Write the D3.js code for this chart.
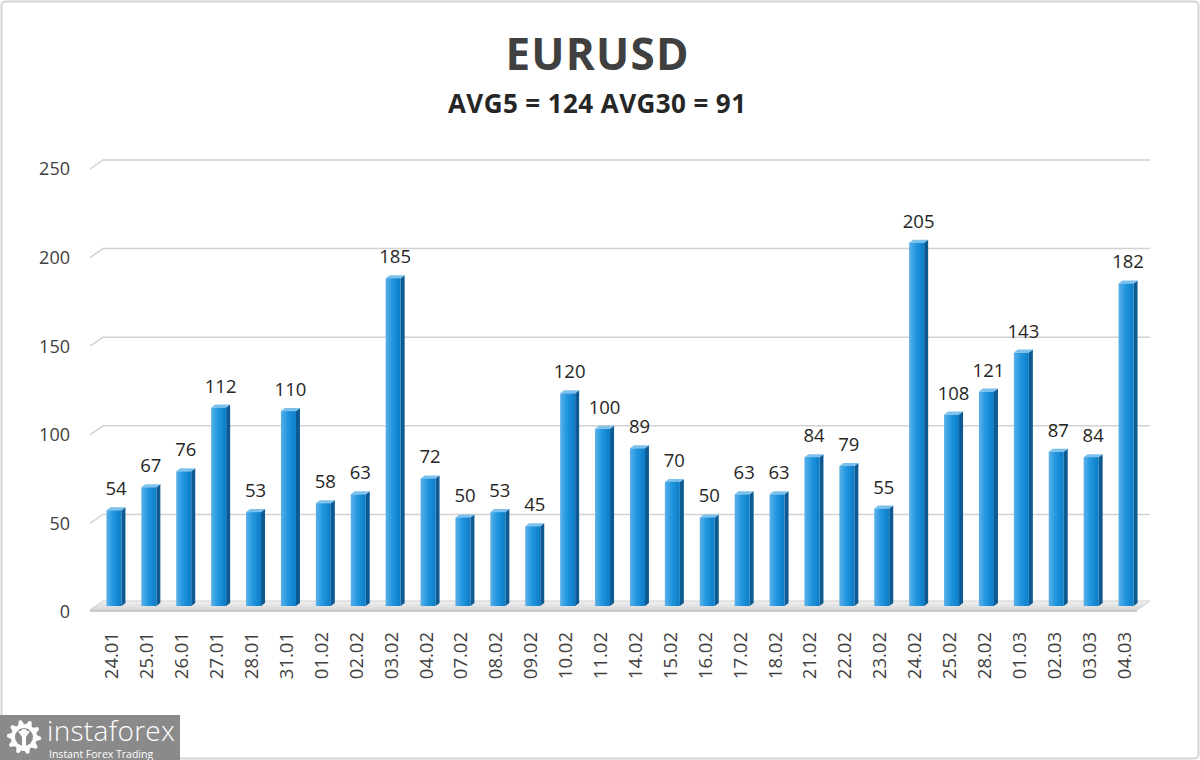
<!DOCTYPE html>
<html>
<head>
<meta charset="utf-8">
<script src="https://cdn.jsdelivr.net/npm/d3@7"></script>
<style>
  body { margin: 0; background: #fff; }
  svg text { font-family: "Open Sans", "DejaVu Sans", sans-serif; }
</style>
</head>
<body>
<div class="chart"></div>
<script>
var svgWidth = 1200;
var svgHeight = 760;

// chart values
var dates = ["24.01", "25.01", "26.01", "27.01", "28.01", "31.01", "01.02", "02.02", "03.02", "04.02",
  "07.02", "08.02", "09.02", "10.02", "11.02", "14.02", "15.02", "16.02", "17.02", "18.02",
  "21.02", "22.02", "23.02", "24.02", "25.02", "28.02", "01.03", "02.03", "03.03", "04.03"];
var values = [54, 67, 76, 112, 53, 110, 58, 63, 185, 72,
  50, 53, 45, 120, 100, 89, 70, 50, 63, 63,
  84, 79, 55, 205, 108, 121, 143, 87, 84, 182];
var yTicks = [0, 50, 100, 150, 200, 250];
var title = "EURUSD";
var subtitle = "AVG5 = 124 AVG30 = 91";

var depthX = 4, depthY = 3;      // bar 3d depth
var wallX = 13, wallY = 9;       // floor / wall perspective

var svg = d3.select(".chart")
  .append("svg")
  .attr("width", svgWidth)
  .attr("height", svgHeight);

var defs = svg.append("defs");
var grad = defs.append("linearGradient")
  .attr("id", "barFront")
  .attr("x1", "0%").attr("x2", "100%").attr("y1", "0%").attr("y2", "0%");
grad.append("stop").attr("offset", "0%").attr("stop-color", "#5cb0e8");
grad.append("stop").attr("offset", "45%").attr("stop-color", "#2197e0");
grad.append("stop").attr("offset", "100%").attr("stop-color", "#0c7cc6");

var floorGrad = defs.append("linearGradient")
  .attr("id", "floorGrad")
  .attr("x1", "0%").attr("x2", "0%").attr("y1", "0%").attr("y2", "100%");
floorGrad.append("stop").attr("offset", "0%").attr("stop-color", "#f2f2f2");
floorGrad.append("stop").attr("offset", "100%").attr("stop-color", "#d6d6d6");

// outer frame
svg.append("rect")
  .attr("x", 1.5).attr("y", 1.5)
  .attr("width", svgWidth - 3).attr("height", svgHeight - 3)
  .attr("rx", 4)
  .attr("fill", "#fff")
  .attr("stroke", "#d4d4d4")
  .attr("stroke-width", 2);

// titles
svg.append("text")
  .attr("x", 597).attr("y", 70)
  .attr("text-anchor", "middle")
  .attr("font-size", 44)
  .attr("font-weight", "bold")
  .attr("fill", "#404040")
  .attr("textLength", 183)
  .text(title);

svg.append("text")
  .attr("x", 597).attr("y", 113)
  .attr("text-anchor", "middle")
  .attr("font-size", 26)
  .attr("font-weight", "bold")
  .attr("fill", "#262626")
  .attr("textLength", 298)
  .text(subtitle);

// scales
var xBand = d3.scaleBand()
  .domain(dates)
  .range([96.5, 1143.5])
  .paddingInner(0.57)
  .paddingOuter(0.285);

var yScale = d3.scaleLinear()
  .domain([0, 250])
  .range([606, 163]);

var grid = svg.append("g");

// floor
var fy = yScale(0);
grid.append("path")
  .attr("d", `M90,${fy + 4} L${90 + wallX},${fy - 5} L1150,${fy - 5} L${1150 - wallX},${fy + 4} Z`)
  .attr("fill", "url(#floorGrad)")
  .attr("stroke", "#cfcfcf")
  .attr("stroke-width", 1);
grid.append("line")
  .attr("x1", 90).attr("x2", 1150 - wallX)
  .attr("y1", fy + 5).attr("y2", fy + 5)
  .attr("stroke", "#bcbcbc").attr("stroke-width", 1.5);

// gridlines on the back wall with the side diagonal
grid.selectAll(".gridline")
  .data(yTicks.filter(d => d > 0))
  .enter()
  .append("path")
  .attr("class", "gridline")
  .attr("d", d => {
    var y = yScale(d) - 3;
    return `M90,${y + wallY} L${90 + wallX},${y} L1150,${y}`;
  })
  .attr("fill", "none")
  .attr("stroke", "#d2d2d2")
  .attr("stroke-width", 1.5);

// y tick labels
svg.selectAll(".ylab")
  .data(yTicks)
  .enter()
  .append("text")
  .attr("class", "ylab")
  .attr("x", 70)
  .attr("y", d => yScale(d) + 6)
  .attr("dy", "0.35em")
  .attr("text-anchor", "end")
  .attr("font-size", 18)
  .attr("fill", "#404040")
  .text(d => d);

// bars
var bw = xBand.bandwidth();
var bars = svg.selectAll(".bar")
  .data(values)
  .enter()
  .append("g")
  .attr("class", "bar")
  .attr("transform", (d, i) => `translate(${xBand(dates[i])},0)`);

// side face
bars.append("path")
  .attr("d", d => {
    var top = yScale(d), bot = yScale(0);
    return `M${bw},${top} L${bw + depthX},${top - depthY} L${bw + depthX},${bot - depthY} L${bw},${bot} Z`;
  })
  .attr("fill", "#0d5a92");

// top face
bars.append("path")
  .attr("d", d => {
    var top = yScale(d);
    return `M0,${top} L${depthX},${top - depthY} L${bw + depthX},${top - depthY} L${bw},${top} Z`;
  })
  .attr("fill", "#7cc0ec");

// front face
bars.append("rect")
  .attr("x", 0)
  .attr("y", d => yScale(d))
  .attr("width", bw)
  .attr("height", d => yScale(0) - yScale(d))
  .attr("fill", "url(#barFront)");

// value labels
bars.append("text")
  .attr("x", bw / 2 + 2)
  .attr("y", d => yScale(d) - 15)
  .attr("text-anchor", "middle")
  .attr("font-size", 18.5)
  .attr("fill", "#262626")
  .text(d => d);

// x labels
svg.selectAll(".xlab")
  .data(dates)
  .enter()
  .append("text")
  .attr("class", "xlab")
  .attr("transform", d => `translate(${xBand(d) + bw / 2 - 2}, 632) rotate(-90)`)
  .attr("text-anchor", "end")
  .attr("dy", "0.35em")
  .attr("font-size", 18.5)
  .attr("fill", "#404040")
  .text(d => d);

// logo
var logo = svg.append("g");
logo.append("rect")
  .attr("x", 0).attr("y", 715)
  .attr("width", 180).attr("height", 45)
  .attr("fill", "#8a8a8a");

// gear
var gear = logo.append("g").attr("transform", "translate(24,737)");
var teeth = 10;
var gearPts = [];
for (var k = 0; k < teeth * 4; k++) {
  var a = (k / (teeth * 4)) * Math.PI * 2;
  var r = (k % 4 === 0 || k % 4 === 1) ? 17 : 13;
  gearPts.push([r * Math.cos(a), r * Math.sin(a)]);
}
gear.append("path")
  .attr("d", d3.line()(gearPts) + "Z")
  .attr("fill", "#fff");
gear.append("circle").attr("r", 9).attr("fill", "#8a8a8a");
gear.append("path")
  .attr("d", "M-6,-6 L-2,0 L-2,14 L2,14 L2,0 L6,-6 L3,-6 L0,-2 L-3,-6 Z")
  .attr("fill", "#fff");
gear.append("circle").attr("cx", 0).attr("cy", -5).attr("r", 3).attr("fill", "#fff");

logo.append("text")
  .attr("x", 47).attr("y", 741)
  .attr("font-size", 28)
  .attr("font-weight", 300)
  .attr("fill", "#fff")
  .attr("textLength", 128)
  .text("instaforex");
logo.append("text")
  .attr("x", 49).attr("y", 758)
  .attr("font-size", 10.5)
  .attr("fill", "#fff")
  .text("Instant Forex Trading");
</script>
</body>
</html>
